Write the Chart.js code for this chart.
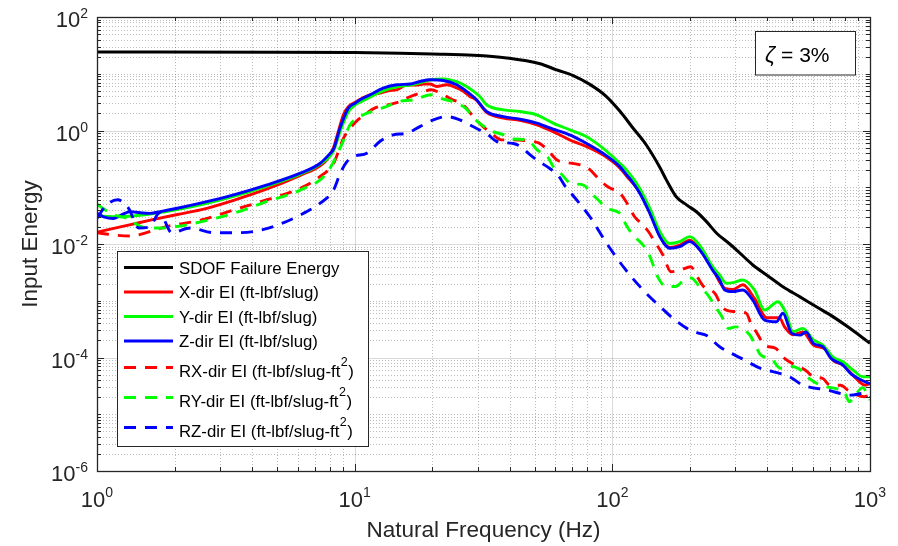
<!DOCTYPE html>
<html>
<head>
<meta charset="utf-8">
<script src="https://cdn.jsdelivr.net/npm/chart.js@4.4.0/dist/chart.umd.min.js"></script>
<style>
html,body{margin:0;padding:0;background:#fff;}
#wrap{width:898px;height:546px;position:relative;}
</style>
</head>
<body>
<div id="wrap"><canvas id="c"></canvas></div>
<script>
// ---------------- DATA ----------------
const sdofFreq   = [1, 5, 10, 15, 20, 28.9, 38.9, 52.4, 60.8, 70.5, 81.8, 94.9, 106.9, 120, 135.7, 152.8, 162, 177, 194, 212, 232, 254, 284, 303, 351, 397, 459, 535, 619, 718, 820, 1000];
const sdofEnergy = [24.2, 24.0, 23.6, 23.0, 22.3, 21.2, 19.0, 15.0, 11.7, 9.3, 6.5, 3.97, 2.2, 1.12, 0.55, 0.225, 0.135, 0.068, 0.049, 0.037, 0.0248, 0.0155, 0.0102, 0.0079, 0.00427, 0.00284, 0.00177, 0.00117, 0.000783, 0.000525, 0.000347, 0.000178];

const xFreq   = [1, 1.35, 1.61, 2.05, 2.52, 3.39, 4.57, 6.15, 7.35, 7.8, 8.28, 8.6, 9.05, 9.45, 10.05, 10.5, 11.5, 12.6, 13.5, 14.6, 15.9, 17.4, 18.5, 19.6, 20.8, 22.8, 24.9, 26.4, 28, 29.6, 32.5, 37.8, 43.8, 50.9, 58.9, 68.3, 79.2, 91.9, 106.9, 113.5, 127.8, 139.7, 152.8, 167, 182.6, 199.7, 218, 245, 273, 294, 321, 356, 398, 445, 466, 502, 549, 603, 680, 718, 784, 858, 958, 1000];
const xEnergy = [0.0162, 0.0219, 0.0263, 0.0331, 0.0398, 0.0589, 0.0933, 0.162, 0.240, 0.302, 0.501, 0.891, 1.91, 2.63, 3.16, 3.55, 4.27, 4.57, 5.01, 5.25, 6.31, 6.31, 6.61, 6.61, 5.97, 6.40, 5.62, 4.90, 3.98, 3.47, 2.09, 1.66, 1.51, 1.26, 0.955, 0.684, 0.525, 0.372, 0.219, 0.158, 0.0813, 0.0363, 0.0141, 0.0087, 0.00955, 0.0117, 0.00832, 0.00363, 0.00166, 0.00158, 0.00191, 0.0011, 0.000501, 0.000501, 0.000347, 0.000251, 0.000282, 0.000166, 0.000135, 8.91e-5, 7.41e-5, 4.90e-5, 3.24e-5, 3.47e-5];

const yFreq   = [1, 1.2, 1.5, 2.0, 2.52, 3.39, 4.57, 6.15, 7.35, 8.28, 8.78, 9.45, 10.05, 10.5, 11.5, 12.9, 14.6, 16.4, 17.9, 19.6, 22.1, 24.9, 27.2, 30.6, 32.5, 37.8, 43.8, 50.9, 58.9, 68.3, 79.2, 91.9, 106.9, 113.5, 127.8, 139.7, 152.8, 167, 182.6, 199.7, 218, 245, 261, 277, 294, 321, 356, 390, 439, 472, 502, 549, 603, 656, 718, 784, 858, 938, 1000];
const yEnergy = [0.0316, 0.0302, 0.0324, 0.0398, 0.049, 0.0692, 0.105, 0.170, 0.257, 0.437, 0.955, 2.14, 2.82, 3.16, 3.89, 5.01, 5.89, 6.31, 6.92, 7.76, 8.13, 7.24, 5.97, 3.98, 2.84, 2.31, 2.16, 1.89, 1.35, 1.03, 0.783, 0.489, 0.265, 0.202, 0.0955, 0.0427, 0.0166, 0.0102, 0.011, 0.0135, 0.00955, 0.00398, 0.00282, 0.00204, 0.00209, 0.00232, 0.00155, 0.000685, 0.000962, 0.000603, 0.000284, 0.000326, 0.000204, 0.000166, 0.000102, 8.41e-5, 6.03e-5, 4.57e-5, 4.57e-5];

const zFreq   = [1, 1.06, 1.16, 1.25, 1.35, 1.47, 1.61, 1.76, 2.05, 2.52, 3.39, 4.57, 6.15, 7.35, 8.04, 8.28, 8.78, 9.45, 10.05, 10.5, 11.5, 12.9, 14.6, 16.4, 17.9, 19.6, 22.1, 24.9, 27.2, 29.6, 32.5, 37.8, 43.8, 50.9, 58.9, 68.3, 79.2, 91.9, 106.9, 113.5, 118, 127.8, 139.7, 152.8, 167, 182.6, 199.7, 218, 245, 261, 273, 294, 321, 351, 390, 434, 459, 497, 535, 565, 603, 656, 706, 784, 840, 958, 1000];
const zEnergy = [0.0347, 0.0302, 0.0282, 0.0331, 0.0372, 0.0355, 0.0347, 0.0372, 0.0427, 0.0525, 0.0733, 0.110, 0.177, 0.265, 0.398, 0.468, 1.12, 2.48, 3.04, 3.48, 4.27, 5.58, 6.40, 6.61, 7.31, 7.83, 7.59, 6.40, 4.88, 3.55, 2.16, 1.76, 1.58, 1.35, 1.06, 0.839, 0.598, 0.398, 0.231, 0.166, 0.135, 0.0785, 0.0348, 0.0135, 0.0084, 0.00897, 0.011, 0.00794, 0.00347, 0.00232, 0.00155, 0.00145, 0.00155, 0.00102, 0.000457, 0.000427, 0.000603, 0.000266, 0.000248, 0.000282, 0.000178, 0.000155, 9.64e-5, 7.41e-5, 5.25e-5, 3.72e-5, 3.47e-5];

const rxFreq   = [1, 1.15, 1.35, 1.61, 1.87, 2.52, 3.39, 4.57, 6.15, 7.35, 8.28, 9.05, 10.0, 11.1, 12, 13.7, 14.8, 16.3, 18.2, 19.8, 21.5, 24, 26, 28.5, 30, 31.5, 33.9, 37.1, 41.3, 46, 52, 56, 61, 67, 75, 82, 88, 96, 107, 113, 122, 129, 138, 146, 157, 169, 183, 202, 210, 226, 250, 268, 297, 331, 345, 362, 390, 430, 470, 560, 605, 656, 700, 770, 820, 880, 950, 1000];
const rxEnergy = [0.0158, 0.0145, 0.0138, 0.0166, 0.0204, 0.0263, 0.0398, 0.0603, 0.0955, 0.155, 0.263, 0.733, 1.35, 2.0, 2.51, 2.88, 3.16, 3.89, 4.68, 5.21, 4.57, 3.47, 3.02, 1.89, 1.45, 1.17, 0.897, 0.684, 0.684, 0.661, 0.598, 0.457, 0.302, 0.272, 0.248, 0.202, 0.145, 0.102, 0.0785, 0.0562, 0.0302, 0.0234, 0.0166, 0.011, 0.00646, 0.00324, 0.00347, 0.00398, 0.00302, 0.00178, 0.00135, 0.000759, 0.000646, 0.000603, 0.000398, 0.000282, 0.000166, 0.000145, 9.33e-5, 6.03e-5, 4.57e-5, 4.27e-5, 3.24e-5, 3.24e-5, 2.66e-5, 2.24e-5, 2.04e-5, 2.19e-5];

const ryFreq   = [1, 1.06, 1.16, 1.31, 1.52, 1.76, 2.05, 2.52, 3.39, 4.57, 6.15, 7.8, 8.9, 9.6, 10.8, 12.2, 13.3, 14.8, 17, 19.8, 21.5, 25, 27, 29, 30.5, 34.5, 38, 41.3, 47, 51, 56, 59, 63, 69, 77, 84, 88, 95, 107, 113, 120, 130, 138, 144, 150, 162, 176, 190, 202, 218, 235, 253, 264, 283, 301, 341, 356, 377, 413, 450, 497, 549, 580, 645, 685, 740, 800, 830, 880, 935, 1000];
const ryEnergy = [0.0501, 0.0417, 0.0331, 0.0282, 0.0195, 0.0191, 0.0204, 0.0245, 0.0347, 0.0562, 0.0891, 0.178, 0.562, 1.26, 1.89, 2.31, 2.65, 3.24, 3.48, 4.27, 3.72, 3.02, 2.45, 1.66, 1.35, 0.955, 0.839, 0.708, 0.684, 0.457, 0.347, 0.231, 0.177, 0.117, 0.110, 0.0733, 0.0603, 0.0427, 0.0347, 0.0219, 0.0145, 0.0102, 0.00692, 0.00427, 0.00263, 0.00178, 0.00178, 0.00232, 0.00251, 0.00178, 0.00126, 0.000741, 0.000562, 0.000324, 0.000347, 0.000251, 0.000178, 0.00011, 9.55e-5, 6.46e-5, 6.92e-5, 5.62e-5, 4.27e-5, 3.24e-5, 3.02e-5, 2.82e-5, 2.34e-5, 1.66e-5, 2.24e-5, 2.95e-5, 1.78e-5];

const rzFreq   = [1, 1.08, 1.2, 1.33, 1.45, 1.6, 1.75, 1.95, 2.3, 2.84, 3.39, 4.05, 4.85, 6.15, 7.35, 8.28, 8.8, 9.33, 9.9, 11.15, 12.56, 14.1, 15.9, 17.9, 20.2, 22.8, 25.6, 28.5, 33, 35.6, 41.3, 44, 48, 52, 57, 62, 66, 70.5, 81.8, 95, 112, 131, 153, 172, 200, 218, 232, 261, 317, 384, 420, 488, 549, 685, 840, 950, 1000];
const rzEnergy = [0.0282, 0.0468, 0.0603, 0.0417, 0.0191, 0.020, 0.0355, 0.0158, 0.0191, 0.0158, 0.0158, 0.0166, 0.0204, 0.0324, 0.0525, 0.0891, 0.178, 0.282, 0.347, 0.398, 0.646, 0.839, 0.897, 1.17, 1.54, 1.76, 1.54, 1.20, 0.839, 0.64, 0.589, 0.521, 0.372, 0.284, 0.216, 0.155, 0.1, 0.0708, 0.0302, 0.0103, 0.00363, 0.00158, 0.000794, 0.00049, 0.000304, 0.000266, 0.000245, 0.000155, 9.64e-5, 6.17e-5, 5.62e-5, 4.57e-5, 3.26e-5, 2.66e-5, 2.17e-5, 2.34e-5, 2.04e-5];

const seriesLabels = [
  'SDOF Failure Energy',
  'X-dir EI (ft-lbf/slug)',
  'Y-dir EI (ft-lbf/slug)',
  'Z-dir EI (ft-lbf/slug)',
  'RX-dir EI (ft-lbf/slug-ft²)',
  'RY-dir EI (ft-lbf/slug-ft²)',
  'RZ-dir EI (ft-lbf/slug-ft²)'
];

// axis ticks (labelled decades) and their labels
const xTickValues = [1, 10, 100, 1000];
const xTickExps   = ['0', '1', '2', '3'];
const yTickValues = [1e-6, 1e-4, 1e-2, 1, 100];
const yTickExps   = ['-6', '-4', '-2', '0', '2'];
const xTitle = 'Natural Frequency (Hz)';
const yTitle = 'Input Energy';
const dampingText = ' = 3%';

// ---------------- CHART ----------------
const FONT = '"Liberation Sans", Arial, Helvetica, sans-serif';
const AXC = '#262626';
function pts(f, e) { return f.map((v, i) => ({x: v, y: e[i]})); }

const styles = [
  {c: '#000000', dash: [], w: 3},
  {c: '#ff0000', dash: [], w: 2.9},
  {c: '#00ff00', dash: [], w: 2.9},
  {c: '#0000ff', dash: [], w: 2.9},
  {c: '#ff0000', dash: [12, 9], w: 2.9},
  {c: '#00ff00', dash: [12, 9], w: 2.9},
  {c: '#0000ff', dash: [12, 9], w: 2.9}
];
const dataPairs = [
  [sdofFreq, sdofEnergy], [xFreq, xEnergy], [yFreq, yEnergy], [zFreq, zEnergy],
  [rxFreq, rxEnergy], [ryFreq, ryEnergy], [rzFreq, rzEnergy]
];

const datasets = dataPairs.map((p, i) => ({
  label: seriesLabels[i],
  data: pts(p[0], p[1]),
  borderColor: styles[i].c,
  backgroundColor: styles[i].c,
  borderDash: styles[i].dash,
  borderWidth: styles[i].w,
  borderCapStyle: 'butt',
  pointRadius: 0,
  fill: false,
  cubicInterpolationMode: 'monotone',
  order: 10 - i
}));

function minorValues(min, max, majors) {
  const out = [];
  const e0 = Math.floor(Math.log10(min) + 1e-9), e1 = Math.ceil(Math.log10(max) - 1e-9);
  for (let e = e0; e <= e1; e++) {
    for (let k = 1; k <= 9; k++) {
      const v = k * Math.pow(10, e);
      if (v < min * 0.999 || v > max * 1.001) continue;
      if (k === 1 && majors.some(m => Math.abs(m - v) / v < 1e-6)) continue;
      out.push(v);
    }
  }
  return out;
}

const matlabAxes = {
  id: 'matlabAxes',
  beforeDatasetsDraw(chart) {
    const {ctx, chartArea: a, scales: {x, y}} = chart;
    ctx.save();
    ctx.beginPath(); ctx.rect(a.left, a.top, a.right - a.left, a.bottom - a.top); ctx.clip();
    ctx.lineWidth = 1;
    // minor grid (dotted)
    ctx.strokeStyle = 'rgba(38,38,38,0.30)';
    ctx.setLineDash([1, 2]);
    ctx.beginPath();
    minorValues(x.min, x.max, xTickValues).forEach(v => {
      const px = Math.round(x.getPixelForValue(v)) + 0.5;
      ctx.moveTo(px, a.top); ctx.lineTo(px, a.bottom);
    });
    minorValues(y.min, y.max, yTickValues).forEach(v => {
      const py = Math.round(y.getPixelForValue(v)) + 0.5;
      ctx.moveTo(a.left, py); ctx.lineTo(a.right, py);
    });
    ctx.stroke();
    // major grid (solid)
    ctx.setLineDash([]);
    ctx.strokeStyle = 'rgba(38,38,38,0.17)';
    ctx.beginPath();
    xTickValues.forEach(v => {
      const px = Math.round(x.getPixelForValue(v)) + 0.5;
      ctx.moveTo(px, a.top); ctx.lineTo(px, a.bottom);
    });
    yTickValues.forEach(v => {
      const py = Math.round(y.getPixelForValue(v)) + 0.5;
      ctx.moveTo(a.left, py); ctx.lineTo(a.right, py);
    });
    ctx.stroke();
    ctx.restore();
  },
  afterDatasetsDraw(chart) {
    const {ctx, chartArea: a, scales: {x, y}} = chart;
    ctx.save();
    ctx.strokeStyle = AXC;
    ctx.lineWidth = 1;
    ctx.setLineDash([]);
    // ticks inward on all four sides
    ctx.beginPath();
    const tick = (vals, len) => {
      vals.forEach(v => {
        const px = Math.round(x.getPixelForValue(v)) + 0.5;
        ctx.moveTo(px, a.bottom); ctx.lineTo(px, a.bottom - len);
        ctx.moveTo(px, a.top); ctx.lineTo(px, a.top + len);
      });
    };
    const ticky = (vals, len) => {
      vals.forEach(v => {
        const py = Math.round(y.getPixelForValue(v)) + 0.5;
        ctx.moveTo(a.left, py); ctx.lineTo(a.left + len, py);
        ctx.moveTo(a.right, py); ctx.lineTo(a.right - len, py);
      });
    };
    tick(xTickValues, 7); tick(minorValues(x.min, x.max, xTickValues), 4);
    ticky(yTickValues, 7); ticky(minorValues(y.min, y.max, yTickValues), 4);
    ctx.stroke();
    // frame
    ctx.lineWidth = 1.3;
    ctx.strokeRect(Math.round(a.left) + 0.5, Math.round(a.top) + 0.5, Math.round(a.right - a.left), Math.round(a.bottom - a.top));

    // tick labels with superscripts
    ctx.fillStyle = AXC;
    ctx.textBaseline = 'alphabetic';
    const big = '22px ' + FONT, sup = '14px ' + FONT;
    xTickValues.forEach((v, i) => {
      const px = x.getPixelForValue(v);
      ctx.font = big; const wb = ctx.measureText('10').width;
      ctx.font = sup; const we = ctx.measureText(xTickExps[i]).width;
      const x0 = px - (wb + we) / 2;
      ctx.font = big; ctx.textAlign = 'left'; ctx.fillText('10', x0, a.bottom + 36);
      ctx.font = sup; ctx.fillText(xTickExps[i], x0 + wb, a.bottom + 26);
    });
    yTickValues.forEach((v, i) => {
      const py = y.getPixelForValue(v);
      ctx.font = sup; const we = ctx.measureText(yTickExps[i]).width;
      ctx.font = big; const wb = ctx.measureText('10').width;
      const xr = a.left - 9;
      ctx.textAlign = 'left';
      ctx.font = big; ctx.fillText('10', xr - we - wb, py + 10);
      ctx.font = sup; ctx.fillText(yTickExps[i], xr - we, py + 1);
    });

    // axis titles
    ctx.font = '22.5px ' + FONT;
    ctx.textAlign = 'center';
    ctx.fillText(xTitle, (a.left + a.right) / 2, 537);
    ctx.save();
    ctx.translate(37, (a.top + a.bottom) / 2);
    ctx.rotate(-Math.PI / 2);
    ctx.fillText(yTitle, 0, 0);
    ctx.restore();

    // damping annotation box
    ctx.fillStyle = '#ffffff';
    ctx.fillRect(755.5, 31.5, 100, 43.5);
    ctx.strokeStyle = AXC; ctx.lineWidth = 1;
    ctx.strokeRect(755.5, 31.5, 100, 43.5);
    ctx.fillStyle = '#000';
    ctx.textAlign = 'left';
    ctx.font = 'italic 22px ' + FONT;
    ctx.fillText('ζ', 765, 61.5);
    const wz = ctx.measureText('ζ').width;
    ctx.font = '21px ' + FONT;
    ctx.fillText(dampingText, 765 + wz, 61.5);

    // legend
    const L = {x: 117.5, y: 251.5, w: 251, h: 195};
    ctx.fillStyle = '#ffffff';
    ctx.fillRect(L.x, L.y, L.w, L.h);
    ctx.strokeStyle = AXC; ctx.lineWidth = 1;
    ctx.strokeRect(L.x, L.y, L.w, L.h);
    const rows = [267.5, 292, 316.5, 341, 367.5, 397.5, 427.5];
    chart.data.datasets.forEach((ds, i) => {
      const ly = rows[i];
      ctx.strokeStyle = ds.borderColor;
      ctx.lineWidth = ds.borderWidth;
      ctx.lineCap = 'butt';
      ctx.setLineDash(ds.borderDash || []);
      ctx.beginPath(); ctx.moveTo(124, ly); ctx.lineTo(173, ly); ctx.stroke();
      ctx.setLineDash([]);
      const parts = ds.label.split('²');
      const f1 = '16.8px ' + FONT, f2 = '12.5px ' + FONT;
      ctx.fillStyle = '#000';
      ctx.textAlign = 'left';
      const base = parts.length > 1 ? ly + 9 : ly + 6;
      let tx = 179;
      ctx.font = f1; ctx.fillText(parts[0], tx, base);
      if (parts.length > 1) {
        tx += ctx.measureText(parts[0]).width + 0.5;
        ctx.font = f2; ctx.fillText('2', tx, base - 11);
        tx += ctx.measureText('2').width + 0.5;
        ctx.font = f1; ctx.fillText(parts[1], tx, base);
      }
    });
    ctx.restore();
  }
};

new Chart(document.getElementById('c'), {
  type: 'line',
  data: {datasets},
  options: {
    responsive: true,
    maintainAspectRatio: false,
    animation: false,
    events: [],
    parsing: true,
    layout: {padding: {left: 97, top: 17, right: 28, bottom: 75}},
    plugins: {legend: {display: false}, tooltip: {enabled: false}, title: {display: false}},
    scales: {
      x: {type: 'logarithmic', min: 1, max: 1000, display: false},
      y: {type: 'logarithmic', min: 1e-6, max: 100, display: false}
    }
  },
  plugins: [matlabAxes]
});
</script>
</body>
</html>
